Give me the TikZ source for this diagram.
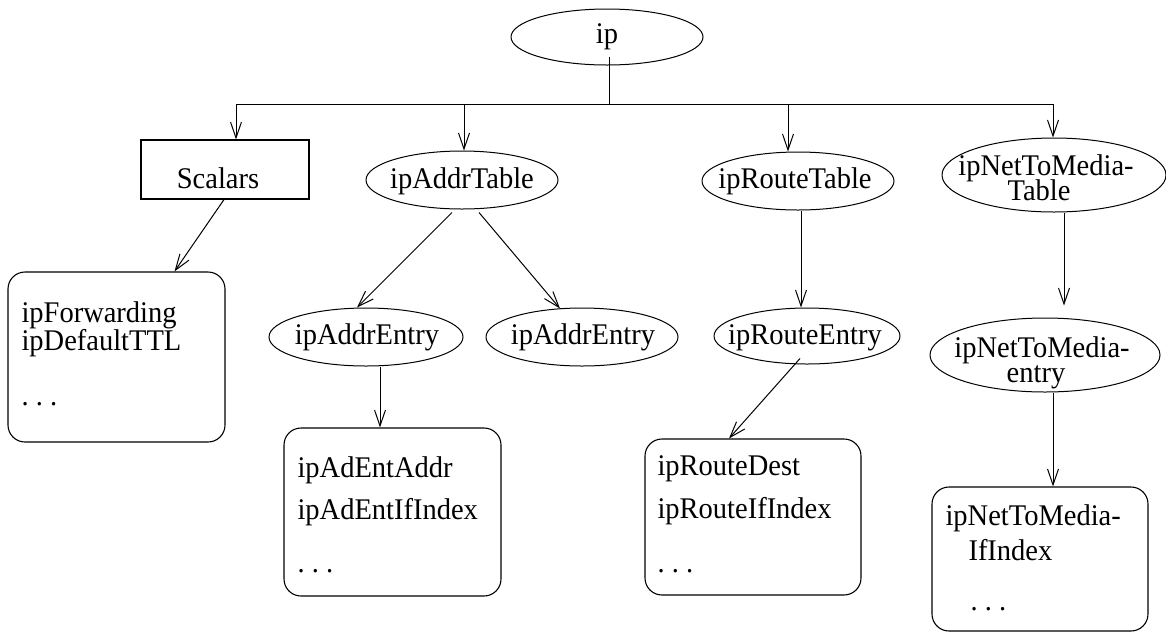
\documentclass[tikz,border=0pt]{standalone}
\usepackage{fontspec}
\setmainfont[FakeStretch=0.95]{Liberation Serif}
\usetikzlibrary{shapes.geometric,arrows.meta}
\begin{document}
\begin{tikzpicture}[x=1pt,y=-1pt,
  every path/.style={line width=1pt},
  ell/.style={draw, ellipse, inner sep=0pt},
  sqbox/.style={draw, rectangle, inner sep=0pt, line width=1.1pt},
  rbox/.style={draw, rectangle, rounded corners=17pt, inner sep=0pt, line width=1.1pt},
  txt/.style={inner sep=0pt, font=\fontsize{30}{32}\selectfont},
  arr/.style={-{Straight Barb[length=16pt,width=11pt]}}]
\useasboundingbox[fill=white] (0,0) rectangle (1166,633);
% shapes
\node[ell, minimum width=192pt, minimum height=56pt] (ip) at (607,37) {};
\node[sqbox, minimum width=168pt, minimum height=59pt] (scalars) at (225,169.5) {};
\node[ell, minimum width=192pt, minimum height=58pt] (addrtable) at (462,180) {};
\node[ell, minimum width=192pt, minimum height=58pt] (routetable) at (798,181) {};
\node[ell, minimum width=224pt, minimum height=74pt] (ntmtable) at (1054,175) {};
\node[rbox, minimum width=217pt, minimum height=170pt] (fwd) at (116.5,357) {};
\node[ell, minimum width=194pt, minimum height=58pt] (entryL) at (366,337) {};
\node[ell, minimum width=192pt, minimum height=58pt] (entryR) at (582,337) {};
\node[ell, minimum width=186pt, minimum height=56pt] (routeentry) at (807,336) {};
\node[ell, minimum width=230pt, minimum height=74pt] (ntmentry) at (1045,355) {};
\node[rbox, minimum width=217pt, minimum height=168pt] (adent) at (392.5,512) {};
\node[rbox, minimum width=216pt, minimum height=156pt] (route) at (753,517) {};
\node[rbox, minimum width=216pt, minimum height=144pt] (ntmbox) at (1040,559) {};
% texts
\node[txt, anchor=base] (tip) at (607,43) {ip};
\node[txt, anchor=base] (tscalars) at (218,188) {Scalars};
\node[txt, anchor=base] (taddrtable) at (462,188) {ipAddrTable};
\node[txt, anchor=base] (troutetable) at (795,188) {ipRouteTable};
\node[txt, anchor=base] (tntmtable1) at (1046,175) {ipNetToMedia-};
\node[txt, anchor=base] (tntmtable2) at (1039,200) {Table};
\node[txt, anchor=base] (tentryL) at (367,344) {ipAddrEntry};
\node[txt, anchor=base] (tentryR) at (583,344) {ipAddrEntry};
\node[txt, anchor=base] (trouteentry) at (805,344) {ipRouteEntry};
\node[txt, anchor=base] (tntmentry1) at (1042,357) {ipNetToMedia-};
\node[txt, anchor=base] (tntmentry2) at (1036,382) {entry};
\node[txt, anchor=base west] (tfwd1) at (21,322) {ipForwarding};
\node[txt, anchor=base west] (tfwd2) at (21,350) {ipDefaultTTL};
\node[txt, anchor=base west] (tfwd3) at (21,405) {.\ .\ .};
\node[txt, anchor=base west] (tad1) at (297,477) {ipAdEntAddr};
\node[txt, anchor=base west] (tad2) at (297,519) {ipAdEntIfIndex};
\node[txt, anchor=base west] (tad3) at (297,572) {.\ .\ .};
\node[txt, anchor=base west] (trt1) at (657,475) {ipRouteDest};
\node[txt, anchor=base west] (trt2) at (657,518) {ipRouteIfIndex};
\node[txt, anchor=base west] (trt3) at (657,572) {.\ .\ .};
\node[txt, anchor=base west] (tnb1) at (945,525) {ipNetToMedia-};
\node[txt, anchor=base west] (tnb2) at (968,560) {IfIndex};
\node[txt, anchor=base west] (tnb3) at (970,610) {.\ .\ .};
% bus
\coordinate (ipstart) at (609,57);
\coordinate (busL) at (236,104);
\coordinate (busR) at (1053,104);
\coordinate (busA) at (464,104);
\coordinate (busB) at (788,104);
\draw (ipstart) -- (ipstart |- busL);
\draw (busL) -- (busR);
\draw[arr] (busL) -- (busL |- scalars.north);
\draw[arr] (busA) -- (busA |- addrtable.north);
\draw[arr] (busB) -- (busB |- routetable.north);
\draw[arr] (busR) -- (busR |- ntmtable.north);
% lower connectors
\draw[arr] ([xshift=-1pt]scalars.south) -- ([xshift=58pt]fwd.north);
\draw[arr] ([xshift=-10pt,yshift=-3pt]addrtable.south) -- ([xshift=-9pt]entryL.north);
\draw[arr] ([xshift=17pt,yshift=-3pt]addrtable.south) -- ([xshift=-22pt,yshift=-1pt]entryR.north);
\draw[arr] ([xshift=14pt]entryL.south) -- ([xshift=14pt]entryL.south |- adent.north);
\draw[arr] ([xshift=3pt]routetable.south) -- ([xshift=3pt]routetable.south |- routeentry.north);
\draw[arr] ([xshift=-7pt,yshift=6pt]routeentry.south) -- ([xshift=-24pt]route.north);
\draw[arr] ([xshift=10pt]ntmtable.south) -- ([xshift=19pt,yshift=12pt]ntmentry.north);
\draw[arr] ([xshift=8pt]ntmentry.south) -- ([xshift=8pt]ntmentry.south |- ntmbox.north);
\end{tikzpicture}
\end{document}
